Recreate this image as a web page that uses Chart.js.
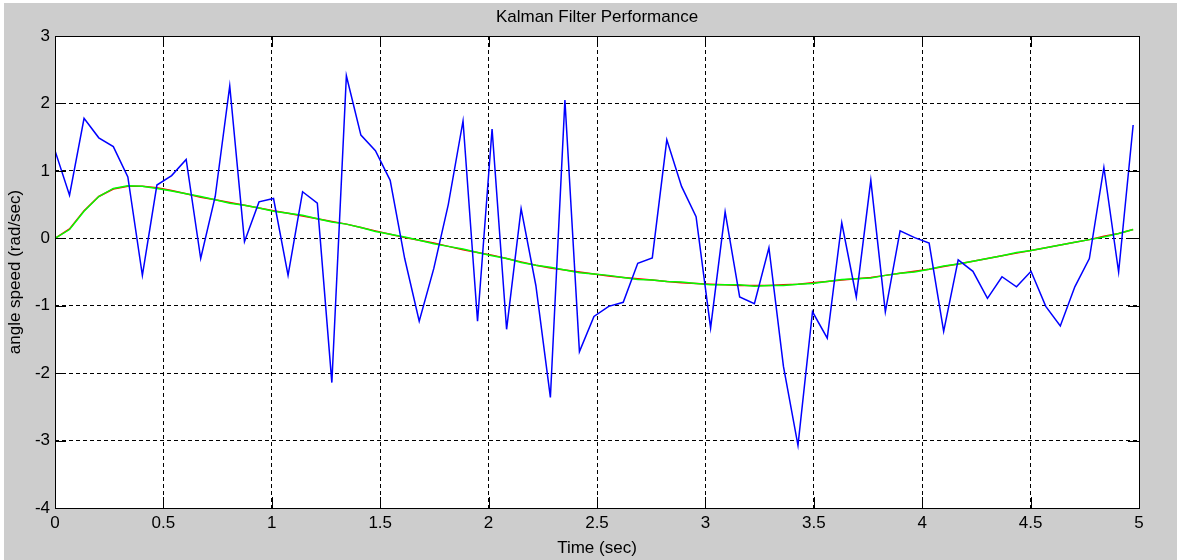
<!DOCTYPE html>
<html>
<head>
<meta charset="utf-8">
<title>Kalman Filter Performance</title>
<script src="https://cdn.jsdelivr.net/npm/chart.js@4.4.1/dist/chart.umd.min.js"></script>
<style>
  html, body { margin: 0; padding: 0; background: #fff; }
  canvas { display: block; }
</style>
</head>
<body>
<canvas id="kalman" width="1177" height="560"></canvas>
<script>
// sample times (sec)
const timeSec = [
    0.000, 0.067, 0.134, 0.202, 0.269, 0.336, 0.403, 0.470, 0.538, 0.605,
    0.672, 0.739, 0.806, 0.874, 0.941, 1.008, 1.075, 1.142, 1.210, 1.277,
    1.344, 1.411, 1.478, 1.546, 1.613, 1.680, 1.747, 1.814, 1.882, 1.949,
    2.016, 2.083, 2.150, 2.218, 2.285, 2.352, 2.419, 2.486, 2.554, 2.621,
    2.688, 2.755, 2.822, 2.890, 2.957, 3.024, 3.091, 3.158, 3.226, 3.293,
    3.360, 3.427, 3.494, 3.562, 3.629, 3.696, 3.763, 3.830, 3.898, 3.965,
    4.032, 4.099, 4.166, 4.234, 4.301, 4.368, 4.435, 4.502, 4.570, 4.637,
    4.704, 4.771, 4.838, 4.906, 4.973
];

// noisy measurement (blue)
const measured = [
    1.30, 0.64, 1.78, 1.49, 1.36, 0.91, -0.55, 0.79, 0.93, 1.17,
    -0.30, 0.62, 2.26, -0.05, 0.54, 0.59, -0.55, 0.69, 0.52, -2.14,
    2.41, 1.53, 1.30, 0.86, -0.30, -1.23, -0.45, 0.50, 1.74, -1.23,
    1.62, -1.35, 0.44, -0.70, -2.36, 2.05, -1.68, -1.16, -1.01, -0.95,
    -0.37, -0.29, 1.46, 0.77, 0.32, -1.33, 0.39, -0.87, -0.97, -0.14,
    -1.90, -3.07, -1.09, -1.48, 0.23, -0.87, 0.86, -1.09, 0.11, 0.01,
    -0.07, -1.38, -0.32, -0.49, -0.89, -0.57, -0.72, -0.49, -1.01, -1.30,
    -0.72, -0.30, 1.05, -0.50, 1.68
];

// true angle speed (red)
const trueSpeed = [
    0.00, 0.14, 0.41, 0.62, 0.73, 0.77, 0.77, 0.75, 0.71, 0.66,
    0.61, 0.57, 0.53, 0.49, 0.45, 0.41, 0.37, 0.33, 0.29, 0.25,
    0.21, 0.16, 0.11, 0.06, 0.01, -0.03, -0.07, -0.12, -0.17, -0.21,
    -0.25, -0.30, -0.35, -0.40, -0.44, -0.47, -0.50, -0.53, -0.56, -0.58,
    -0.60, -0.62, -0.64, -0.66, -0.67, -0.68, -0.69, -0.70, -0.70, -0.70,
    -0.69, -0.68, -0.66, -0.64, -0.62, -0.60, -0.58, -0.55, -0.52, -0.49,
    -0.46, -0.42, -0.38, -0.34, -0.30, -0.26, -0.22, -0.18, -0.14, -0.10,
    -0.06, -0.02, 0.03, 0.07, 0.13
];

// Kalman estimate (green)
const estimate = [
    0.00, 0.13, 0.40, 0.62, 0.74, 0.78, 0.77, 0.74, 0.70, 0.66,
    0.62, 0.57, 0.52, 0.49, 0.45, 0.40, 0.37, 0.34, 0.29, 0.24,
    0.21, 0.16, 0.10, 0.06, 0.02, -0.03, -0.08, -0.12, -0.16, -0.21,
    -0.26, -0.30, -0.36, -0.40, -0.43, -0.47, -0.51, -0.53, -0.55, -0.58,
    -0.61, -0.62, -0.64, -0.65, -0.67, -0.69, -0.69, -0.69, -0.71, -0.70,
    -0.70, -0.68, -0.67, -0.64, -0.61, -0.60, -0.59, -0.55, -0.52, -0.50,
    -0.46, -0.41, -0.38, -0.34, -0.30, -0.26, -0.21, -0.18, -0.14, -0.10,
    -0.06, -0.02, 0.02, 0.07, 0.13
];

const FONT = 'Liberation Sans, Arial, sans-serif';

function toPoints(ys) {
    return timeSec.map((t, i) => ({ x: t, y: ys[i] }));
}

// matlab-ish figure: grey background, white axes, box, inward ticks, labels
const matlabFrame = {
    id: 'matlabFrame',
    beforeDraw(chart) {
        const { ctx, chartArea: a } = chart;
        ctx.save();
        ctx.fillStyle = '#ffffff';
        ctx.fillRect(0, 0, chart.width, chart.height);
        ctx.fillStyle = '#cdcdcd';
        ctx.fillRect(4, 3, chart.width - 4, chart.height - 3);
        ctx.fillStyle = '#ffffff';
        ctx.fillRect(a.left, a.top, a.right - a.left, a.bottom - a.top);
        ctx.restore();
    },
    afterDraw(chart) {
        const { ctx, chartArea: a, scales } = chart;
        const tick = 11;
        ctx.save();
        ctx.strokeStyle = '#000';
        ctx.lineWidth = 1;
        ctx.beginPath();
        scales.x.ticks.forEach(t => {
            const px = Math.round(scales.x.getPixelForValue(t.value)) + 0.5;
            ctx.moveTo(px, a.bottom); ctx.lineTo(px, a.bottom - tick);
            ctx.moveTo(px, a.top); ctx.lineTo(px, a.top + tick);
        });
        scales.y.ticks.forEach(t => {
            const py = Math.round(scales.y.getPixelForValue(t.value)) + 0.5;
            ctx.moveTo(a.left, py); ctx.lineTo(a.left + tick, py);
            ctx.moveTo(a.right, py); ctx.lineTo(a.right - tick, py);
        });
        ctx.stroke();
        ctx.strokeRect(Math.round(a.left) + 0.5, Math.round(a.top) + 0.5,
            Math.round(a.right - a.left), Math.round(a.bottom - a.top));

        ctx.fillStyle = '#000';
        ctx.font = '17px ' + FONT;
        ctx.textAlign = 'center';
        ctx.textBaseline = 'alphabetic';
        const cx = (a.left + a.right) / 2;
        ctx.fillText('Kalman Filter Performance', cx, 22);
        ctx.fillText('Time (sec)', cx, 553);
        ctx.translate(20, (a.top + a.bottom) / 2);
        ctx.rotate(-Math.PI / 2);
        ctx.fillText('angle speed (rad/sec)', 0, 0);
        ctx.restore();
    }
};

// 0, 0.5, 1, 1.5 ... like matlab (no trailing .0)
const plainTick = v => String(Math.round(v * 10) / 10);

new Chart(document.getElementById('kalman'), {
    type: 'line',
    data: {
        datasets: [
            // lower order is drawn on top
            { label: 'measured', data: toPoints(measured), borderColor: '#0000ff', borderWidth: 1.5, order: 0 },
            { label: 'true', data: toPoints(trueSpeed), borderColor: '#ff0000', borderWidth: 1.5, order: 2 },
            { label: 'estimate', data: toPoints(estimate), borderColor: '#00ff00', borderWidth: 1.5, order: 1 }
        ]
    },
    options: {
        responsive: false,
        animation: false,
        events: [],
        elements: {
            point: { radius: 0 },
            line: { tension: 0, fill: false }
        },
        layout: { padding: { left: 0, top: 36, right: 38, bottom: 0 } },
        plugins: {
            legend: { display: false },
            tooltip: { enabled: false },
            title: { display: false }
        },
        scales: {
            x: {
                type: 'linear',
                min: 0,
                max: 5,
                afterFit: s => { s.height = 52; },
                ticks: {
                    stepSize: 0.5,
                    autoSkip: false,
                    maxRotation: 0,
                    padding: 5,
                    color: '#000',
                    font: { family: FONT, size: 17 },
                    callback: plainTick
                },
                grid: { color: '#000', lineWidth: 1, drawTicks: false },
                border: { display: false, dash: [4, 3] }
            },
            y: {
                min: -4,
                max: 3,
                afterFit: s => { s.width = 55; },
                ticks: {
                    stepSize: 1,
                    autoSkip: false,
                    padding: 5,
                    color: '#000',
                    font: { family: FONT, size: 17 },
                    callback: plainTick
                },
                grid: { color: '#000', lineWidth: 1, drawTicks: false },
                border: { display: false, dash: [4, 3] }
            }
        }
    },
    plugins: [matlabFrame]
});
</script>
</body>
</html>
